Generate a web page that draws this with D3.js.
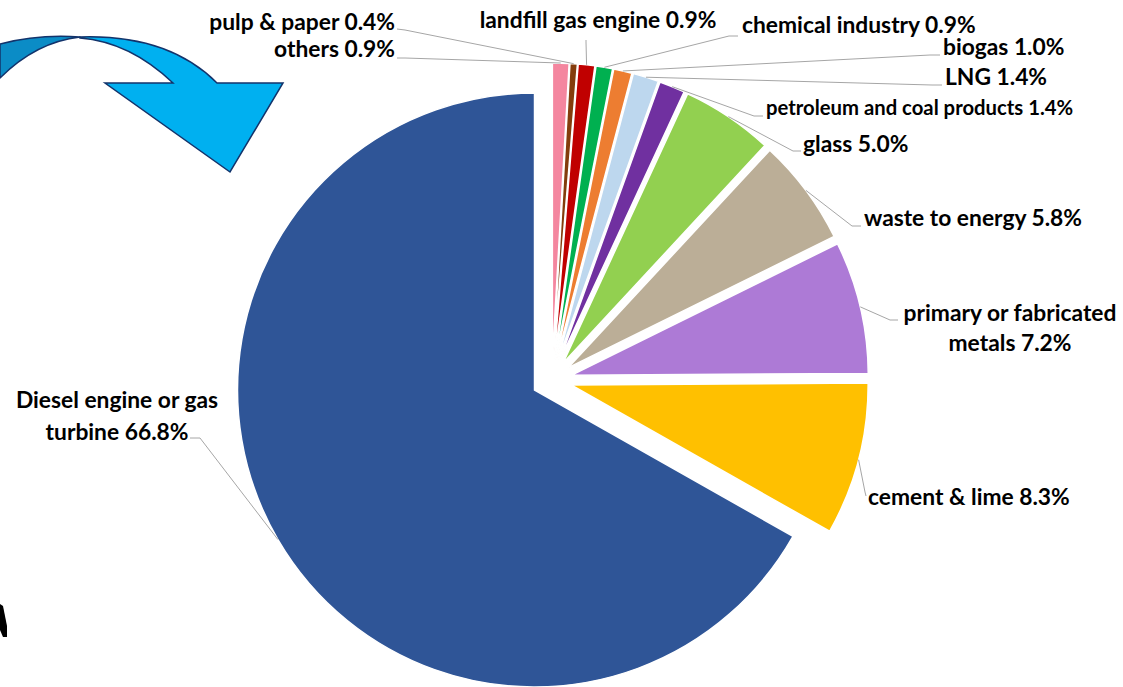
<!DOCTYPE html>
<html>
<head>
<meta charset="utf-8">
<script src="https://cdn.jsdelivr.net/npm/d3@7"></script>
<style>
  html, body { margin: 0; padding: 0; background: #ffffff; }
  svg { display: block; }
  .lbl { font-family: Lato, "Open Sans", sans-serif; font-weight: 700; fill: #000; }
</style>
</head>
<body>
<svg id="chart" width="1123" height="687"></svg>
<script>
// Share of each sector, clockwise from 12 o'clock
const categories = [
  "others", "pulp & paper", "landfill gas engine", "chemical industry",
  "biogas", "LNG", "petroleum and coal products", "glass",
  "waste to energy", "primary or fabricated metals", "cement & lime",
  "Diesel engine or gas turbine"
];
const shares = [0.9, 0.4, 0.9, 0.9, 1.0, 1.4, 1.4, 5.0, 5.8, 7.2, 8.3, 66.8];
const sliceColors = [
  "#F4869F", "#843C0C", "#C00000", "#00B050", "#ED7D31", "#BDD7EE",
  "#7030A0", "#92D050", "#BBAE97", "#AD7AD6", "#FFC000", "#2F5597"
];
// Label text lines for each slice
const labelLines = [
  ["others 0.9%"], ["pulp & paper 0.4%"], ["landfill gas engine 0.9%"],
  ["chemical industry 0.9%"], ["biogas 1.0%"], ["LNG 1.4%"],
  ["petroleum and coal products 1.4%"], ["glass 5.0%"],
  ["waste to energy 5.8%"], ["primary or fabricated", "metals 7.2%"],
  ["cement & lime 8.3%"], ["Diesel engine or gas", "turbine 66.8%"]
];

// Layout
const cx = 551.8, cy = 379.9, radius = 297, explode = 20;
const big = 22.8, small = 20.3;
// label placement: x, first baseline, anchor, font size, leader end [x,y], knee [x,y]
const labelLayout = [
  { x: 395, y: 57, anchor: "end", size: big, end: [397, 58], knee: [405, 58] },
  { x: 395, y: 30, anchor: "end", size: big, end: [397, 29], knee: [405, 30] },
  { x: 598, y: 28, anchor: "middle", size: big, end: [586, 40], knee: [586, 42] },
  { x: 742, y: 33, anchor: "start", size: big, end: [738, 36], knee: [729, 36] },
  { x: 943, y: 55, anchor: "start", size: big, end: [940, 55], knee: [930, 55] },
  { x: 945, y: 85, anchor: "start", size: big, end: [942, 85], knee: [932, 85] },
  { x: 766, y: 115, anchor: "start", size: small, end: [763, 116], knee: [754, 116] },
  { x: 803, y: 152, anchor: "start", size: big, end: [801, 151], knee: [793, 151] },
  { x: 864, y: 226, anchor: "start", size: big, end: [861, 226], knee: [852, 226] },
  { x: 1010, y: 321, anchor: "middle", size: big, end: [898, 320], knee: [890, 320], lh: 30 },
  { x: 868, y: 505, anchor: "start", size: big, end: [866, 496], knee: [865, 492] },
  { x: 117, y: 408, anchor: "middle", size: big, end: [190, 438], knee: [200, 438], lh: 32 }
];

const svg = d3.select("#chart");

// Decorative curved arrow, top left
const arrow = svg.append("g");
arrow.append("path")
  .attr("d", "M0,44 Q38,34 80,37 Q36,42 0,78 Z")
  .attr("fill", "#0B8CC6").attr("stroke", "#13336B").attr("stroke-width", 1.5)
  .attr("stroke-linejoin", "round");
arrow.append("path")
  .attr("d", "M80,37 Q168,34 217,83 L283,83 L230,172 L105,83 L173,83 Q130,42 80,38 Z")
  .attr("fill", "#00B0F0").attr("stroke", "#13336B").attr("stroke-width", 1.5)
  .attr("stroke-linejoin", "miter");

// Small fragment at the lower-left margin
svg.append("path")
  .attr("d", "M0,604 L3,606 L7,626 L7,637 L3,637 L0,630 Z")
  .attr("fill", "#000");

const pie = d3.pie().value(d => d).sort(null).startAngle(0).endAngle(2 * Math.PI);
const arcs = pie(shares);
const arcGen = d3.arc().innerRadius(0).outerRadius(radius);
const edgeGen = d3.arc().innerRadius(radius).outerRadius(radius);

function offset(d) {
  const mid = (d.startAngle + d.endAngle) / 2;
  return [Math.sin(mid) * explode, -Math.cos(mid) * explode];
}

const g = svg.append("g").attr("transform", `translate(${cx},${cy})`);

g.selectAll("path.slice")
  .data(arcs)
  .join("path")
  .attr("class", "slice")
  .attr("transform", d => { const o = offset(d); return `translate(${o[0]},${o[1]})`; })
  .attr("d", arcGen)
  .attr("fill", (d, i) => sliceColors[i])
  .attr("stroke", "#ffffff")
  .attr("stroke-width", 1.5);

// Leader lines from each slice's outer edge to its label
const line = d3.line();
arcs.forEach((d, i) => {
  const o = offset(d);
  const c = edgeGen.centroid(d);
  const p = [cx + c[0] + o[0], cy + c[1] + o[1]];
  const L = labelLayout[i];
  svg.append("path")
    .attr("d", line([L.end, L.knee, p]))
    .attr("fill", "none")
    .attr("stroke", "#A6A6A6")
    .attr("stroke-width", 1);
});

// Labels
labelLines.forEach((lines, i) => {
  const L = labelLayout[i];
  const t = svg.append("text")
    .attr("class", "lbl")
    .attr("x", L.x).attr("y", L.y)
    .attr("text-anchor", L.anchor)
    .attr("font-size", L.size);
  lines.forEach((s, k) => {
    t.append("tspan").attr("x", L.x).attr("y", L.y + k * (L.lh || 0)).text(s);
  });
});
</script>
</body>
</html>
